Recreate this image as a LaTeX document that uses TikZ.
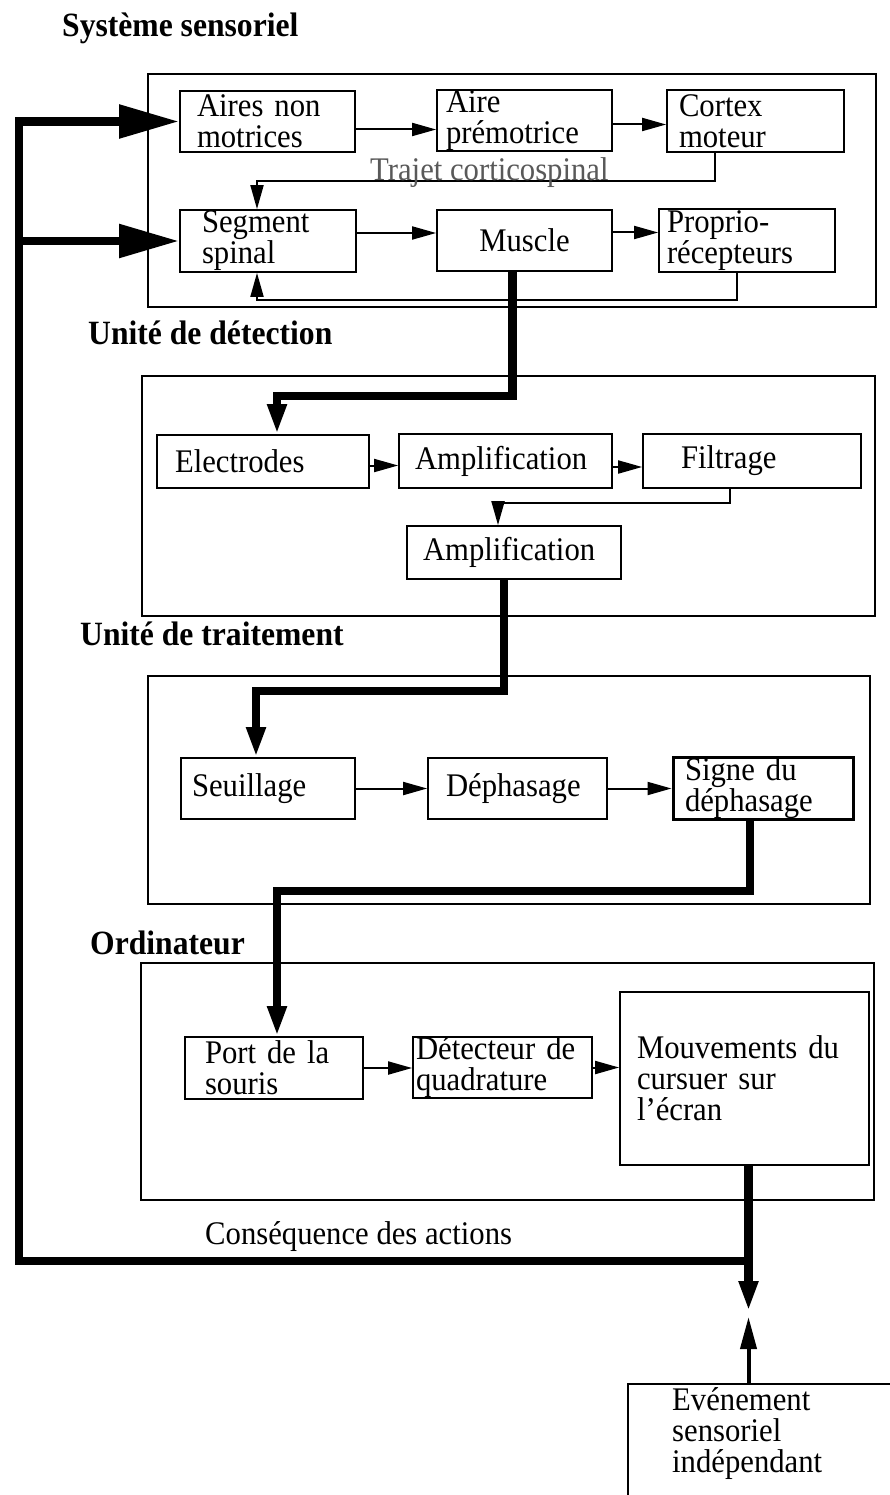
\documentclass[tikz,border=0pt]{standalone}
\usepackage{fontspec}
\setmainfont{Liberation Serif}[FakeStretch=0.93]
\usetikzlibrary{arrows.meta}
\tikzset{
  bx/.style={draw=black, line width=1.8pt, inner ysep=0pt, align=left,
    font=\fontsize{33pt}{31pt}\selectfont},
  obox/.style={draw=black, line width=2pt, inner sep=0pt},
  txt/.style={inner sep=0pt, align=left, font=\fontsize{33pt}{31pt}\selectfont},
  hdr/.style={inner sep=0pt, font=\fontsize{34pt}{30pt}\selectfont\bfseries},
  arr/.style={draw=black, line width=2pt, -{Triangle[length=24pt,width=13pt]}},
  thk/.style={draw=black, line width=8.5pt},
  thkarr/.style={thk, -{Triangle[length=30pt,width=18pt]}},
  bigarr/.style={thk, -{Triangle[length=60pt,width=32pt]}},
  medarr/.style={draw=black, line width=4pt, -{Triangle[length=32pt,width=16pt]}},
}
\begin{document}
\begin{tikzpicture}[x=1pt,y=-1pt]
\useasboundingbox (0,0) rectangle (889,1495);

% headers
\node[hdr, anchor=west] (h1) at (62,28) {Système sensoriel};
\node[hdr, anchor=west] (h2) at (88,333) {Unité de détection};
\node[hdr, anchor=west] (h3) at (80,634) {Unité de traitement};
\node[hdr, anchor=west] (h4) at (90,943) {Ordinateur};

% outer boxes
\node[obox, minimum width=728pt, minimum height=233pt] (sys) at (512,190.5) {};
\node[obox, minimum width=733pt, minimum height=240pt] (det) at (508.5,496) {};
\node[obox, minimum width=722pt, minimum height=228pt] (trt) at (509,790) {};
\node[obox, minimum width=733pt, minimum height=237pt] (ord) at (507.5,1081.5) {};

% Systeme sensoriel
\node[bx, minimum height=61pt, text width=141pt, inner xsep=17pt] (aires) at (267.5,121.5) {Aires non\\motrices};
\node[bx, minimum height=61pt, text width=157pt, inner xsep=9pt] (aire) at (524.5,120.5) {Aire\\prémotrice};
\node[bx, minimum height=62pt, text width=153pt, inner xsep=12pt] (cortex) at (755.5,121) {Cortex\\moteur};
\node[bx, minimum height=62pt, text width=132pt, inner xsep=22pt] (segment) at (268,241) {Segment\\spinal};
\node[bx, minimum height=61pt, text width=150pt, inner xsep=12.5pt, align=center] (muscle) at (524.5,240.5) {Muscle};
\node[bx, minimum height=63pt, text width=160pt, inner xsep=8pt] (proprio) at (747,240.5) {Proprio-\\récepteurs};

\draw[arr] ([yshift=-8pt]aires.east) -- ([yshift=-8pt]aires.east -| aire.west);
\draw[arr] ([yshift=-4pt]aire.east) -- ([yshift=-4pt]aire.east -| cortex.west);
\draw[arr] ([yshift=8pt]segment.east) -- ([yshift=8pt]segment.east -| muscle.west);
\draw[arr] ([yshift=8pt]muscle.east) -- ([yshift=8pt]muscle.east -| proprio.west);

\coordinate (trj) at (257,181);
\draw[arr] ([xshift=-41pt]cortex.south) |- (trj) -- (trj |- segment.north);
\node[inner sep=0pt, anchor=base west, text=black!65, font=\fontsize{33pt}{31pt}\selectfont] (trjlbl) at (370,181) {Trajet corticospinal};
\coordinate (fb) at (257,300);
\draw[arr] ([xshift=-10pt]proprio.south) |- (fb) -- (fb |- segment.south);

% Unite de detection
\node[bx, minimum height=53pt, text width=176pt, inner xsep=18pt] (electrodes) at (263,461.5) {Electrodes};
\node[bx, minimum height=54pt, text width=181pt, inner xsep=16pt] (amp1) at (505.5,461) {Amplification};
\node[bx, minimum height=54pt, text width=142pt, inner xsep=38pt] (filtrage) at (752,461) {Filtrage};
\node[bx, minimum height=53pt, text width=182pt, inner xsep=16pt] (amp2) at (514,552.5) {Amplification};

\coordinate (k1) at (277,396);
\draw[thkarr] ([xshift=-12pt]muscle.south) |- (k1) -- (k1 |- electrodes.north);
\draw[arr] ([yshift=-4pt]electrodes.east) -- ([yshift=-4pt]electrodes.east -| amp1.west);
\draw[arr] ([yshift=-6pt]amp1.east) -- ([yshift=-6pt]amp1.east -| filtrage.west);
\coordinate (k2) at (498,503);
\draw[arr] ([xshift=-22pt]filtrage.south) |- (k2) -- (k2 |- amp2.north);

% Unite de traitement
\node[bx, minimum height=61pt, text width=152pt, inner xsep=11pt] (seuil) at (268,788.5) {Seuillage};
\node[bx, minimum height=61pt, text width=143pt, inner xsep=18pt] (deph) at (517.5,788.5) {Déphasage};
\node[bx, line width=3pt, minimum height=62pt, text width=156pt, inner xsep=12pt] (signe) at (763,788) {Signe du\\déphasage};

\coordinate (k3) at (256,691);
\draw[thkarr] ([xshift=-10pt]amp2.south) |- (k3) -- (k3 |- seuil.north);
\draw[arr] (seuil.east) -- (seuil.east -| deph.west);
\draw[arr] (deph.east) -- (deph.east -| signe.west);

% Ordinateur
\node[bx, minimum height=62pt, text width=138pt, inner xsep=20pt] (port) at (274,1068) {Port de la\\souris};
\node[bx, minimum height=61pt, text width=173pt, inner xsep=3pt] (detect) at (502.5,1067.5) {Détecteur de\\quadrature};
\node[bx, minimum height=173pt, text width=215pt, inner xsep=17pt] (mouv) at (744.5,1078.5) {Mouvements du\\cursuer sur\\l'écran};

\coordinate (k4) at (277,891);
\draw[thkarr] ([xshift=-13pt]signe.south) |- (k4) -- (k4 |- port.north);
\draw[arr] (port.east) -- (port.east -| detect.west);
\draw[arr] (detect.east) -- (detect.east -| mouv.west);

% feedback loop
\coordinate (bl) at (19,1261);
\coordinate (jn) at ([xshift=4pt]mouv.south |- bl);
\draw[bigarr] ([xshift=4pt]mouv.south) |- (bl) |- (aires.west);
\draw[bigarr] (bl |- segment.west) -- (segment.west);
\node[txt, anchor=west] (cons) at (205,1237) {Conséquence des actions};
\coordinate (dn) at ([yshift=-50pt]jn);
\draw[thkarr] (jn) -- (dn);

% independent event
\node[draw=black, line width=2pt, minimum width=290pt, minimum height=140pt, anchor=north west, inner sep=0pt] (even) at (627,1383) {};
\node[txt, anchor=west] (event) at (672,1434) {Evénement\\sensoriel\\indépendant};
\coordinate (up) at ([yshift=66pt]even.north -| jn);
\draw[medarr] (even.north -| jn) -- (up);
\end{tikzpicture}
\end{document}
